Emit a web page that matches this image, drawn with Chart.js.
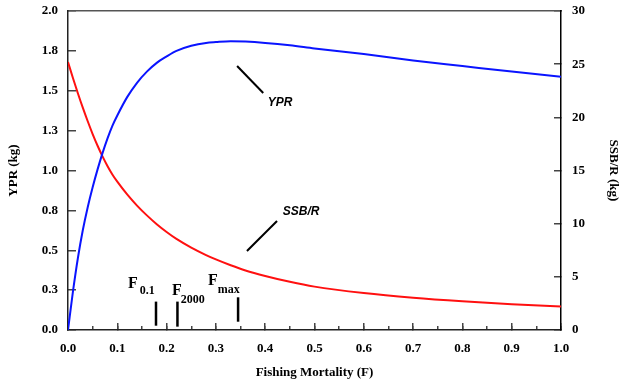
<!DOCTYPE html>
<html>
<head>
<meta charset="utf-8">
<script src="https://cdn.jsdelivr.net/npm/chart.js@4.4.1/dist/chart.umd.min.js"></script>
<style>
  html, body { margin: 0; padding: 0; background: #fff; }
  #chart { display: block; }
</style>
</head>
<body>
<canvas id="chart" width="621" height="380"></canvas>
<script>
// fishing mortality grid (F) and the two curves
const fishingMortality = [0, 0.01, 0.02, 0.03, 0.04, 0.05, 0.06, 0.07, 0.08, 0.09, 0.10,
    0.12, 0.14, 0.16, 0.18, 0.20, 0.22, 0.25, 0.28, 0.30, 0.33, 0.36, 0.40, 0.45, 0.50,
    0.60, 0.70, 0.80, 0.90, 1.00]
const yprValues = [0, 0.24, 0.45, 0.625, 0.77, 0.895, 1.007, 1.109, 1.20, 1.28, 1.345,
    1.46, 1.55, 1.62, 1.675, 1.715, 1.75, 1.782, 1.80, 1.805, 1.81, 1.808, 1.80, 1.785, 1.765,
    1.73, 1.69, 1.655, 1.62, 1.588]
const ssbrValues = [25.2, 23.7, 22.27, 20.91, 19.63, 18.43, 17.33, 16.33, 15.43, 14.63, 13.95,
    12.75, 11.7, 10.78, 9.95, 9.22, 8.57, 7.75, 7.05, 6.64, 6.09, 5.6, 5.08, 4.53, 4.08,
    3.48, 3.04, 2.7, 2.42, 2.2]

// biological reference points
const refPointNames = ['0.1', '2000', 'max']
const refPointValues = [0.1785, 0.222, 0.345]

// axis ranges
const xRange = [0, 1]
const yprRange = [0, 2]
const ssbrRange = [0, 30]

const serif = "'Liberation Serif', 'Times New Roman', Times, serif"
const sans = "'Liberation Sans', Arial, Helvetica, sans-serif"
const tickFont = { family: serif, size: 13, weight: 'bold' }
const axisColor = '#222'
const tickColor = '#444'

// annotation layout (data units of x / left y axis)
const curveLabels = [
    { text: 'YPR', at: [0.430, 1.423], line: [0.343, 1.655, 0.396, 1.486] },
    { text: 'SSB/R', at: [0.473, 0.740], line: [0.424, 0.683, 0.363, 0.495] },
]
const refLayout = [
    { low: 0.027, high: 0.178, fx: 0.1217, fy: 0.2614, gap: 2, dy: 6 },
    { low: 0.021, high: 0.178, fx: 0.211, fy: 0.2194, gap: -1, dy: 8 },
    { low: 0.052, high: 0.205, fx: 0.284, fy: 0.282, gap: 0, dy: 8 },
]

function noPad(s) {
    s.paddingTop = 0
    s.paddingBottom = 0
    s.paddingLeft = 0
    s.paddingRight = 0
}

const annotations = {
    id: 'annotations',
    afterDatasetsDraw(chart) {
        const { ctx } = chart
        const x = chart.scales.x
        const y = chart.scales.y
        ctx.save()
        ctx.strokeStyle = '#000'
        ctx.fillStyle = '#000'
        ctx.lineWidth = 2
        for (let c of curveLabels) {
            ctx.beginPath()
            ctx.moveTo(x.getPixelForValue(c.line[0]), y.getPixelForValue(c.line[1]))
            ctx.lineTo(x.getPixelForValue(c.line[2]), y.getPixelForValue(c.line[3]))
            ctx.stroke()
            ctx.font = 'italic bold 12px ' + sans
            ctx.textAlign = 'center'
            ctx.textBaseline = 'middle'
            ctx.fillText(c.text, x.getPixelForValue(c.at[0]), y.getPixelForValue(c.at[1]))
        }
        ctx.lineWidth = 2.5
        ctx.textAlign = 'left'
        ctx.textBaseline = 'alphabetic'
        refPointValues.forEach((f, i) => {
            const l = refLayout[i]
            const px = x.getPixelForValue(f)
            ctx.beginPath()
            ctx.moveTo(px, y.getPixelForValue(l.low))
            ctx.lineTo(px, y.getPixelForValue(l.high))
            ctx.stroke()
            const lx = x.getPixelForValue(l.fx)
            const ly = y.getPixelForValue(l.fy)
            ctx.font = 'bold 16px ' + serif
            ctx.fillText('F', lx, ly)
            const w = ctx.measureText('F').width
            ctx.font = 'bold 12px ' + serif
            ctx.fillText(refPointNames[i], lx + w + l.gap, ly + l.dy)
        })
        ctx.restore()
    }
}

const ctx = document.getElementById('chart')
new Chart(ctx, {
    type: 'line',
    data: {
        datasets: [
            {
                label: 'YPR',
                data: fishingMortality.map((f, i) => ({ x: f, y: yprValues[i] })),
                yAxisID: 'y',
                borderColor: '#0a14ff',
                borderWidth: 2,
                pointRadius: 0,
                cubicInterpolationMode: 'monotone',
            },
            {
                label: 'SSB/R',
                data: fishingMortality.map((f, i) => ({ x: f, y: ssbrValues[i] })),
                yAxisID: 'y2',
                borderColor: '#ff1010',
                borderWidth: 2,
                pointRadius: 0,
                cubicInterpolationMode: 'monotone',
            },
        ]
    },
    options: {
        responsive: false,
        animation: false,
        events: [],
        layout: { padding: { top: 11, left: 0, right: 0, bottom: 0 } },
        plugins: { legend: { display: false }, tooltip: { enabled: false } },
        scales: {
            x: {
                type: 'linear',
                position: 'bottom',
                weight: 1,
                min: xRange[0],
                max: xRange[1],
                ticks: {
                    stepSize: 0.1,
                    padding: 18,
                    color: '#000',
                    font: tickFont,
                    maxRotation: 0,
                    callback: v => v.toFixed(1),
                },
                grid: { drawOnChartArea: false, tickLength: -7, color: tickColor, lineWidth: 1.5 },
                border: { color: axisColor, width: 1.5 },
                title: {
                    display: true,
                    text: 'Fishing Mortality (F)',
                    color: '#000',
                    font: tickFont,
                    padding: { top: 1, bottom: 0 },
                },
                afterFit: s => { s.height = 50; noPad(s) },
            },
            xMinor: {
                type: 'linear',
                position: 'bottom',
                weight: 0,
                min: xRange[0],
                max: xRange[1],
                ticks: { stepSize: 0.05, display: false },
                grid: { drawOnChartArea: false, tickLength: -4, color: tickColor, lineWidth: 1.5 },
                border: { display: false },
                afterFit: s => { s.height = 0; noPad(s) },
            },
            xTop: {
                type: 'linear',
                position: 'top',
                min: xRange[0],
                max: xRange[1],
                ticks: { display: false },
                grid: { drawOnChartArea: false, drawTicks: false },
                border: { color: '#555', width: 1.5 },
                afterFit: s => { s.height = 0; noPad(s) },
            },
            y: {
                type: 'linear',
                position: 'left',
                min: yprRange[0],
                max: yprRange[1],
                ticks: {
                    stepSize: 0.25,
                    padding: 18,
                    color: '#000',
                    font: tickFont,
                    callback: v => v.toFixed(1),
                },
                grid: { drawOnChartArea: false, tickLength: -8, color: tickColor, lineWidth: 1.5 },
                border: { color: axisColor, width: 1.5 },
                title: {
                    display: true,
                    text: 'YPR (kg)',
                    color: '#000',
                    font: tickFont,
                    padding: { top: 6, bottom: 0 },
                },
                afterFit: s => { s.width = 68; noPad(s) },
            },
            y2: {
                type: 'linear',
                position: 'right',
                min: ssbrRange[0],
                max: ssbrRange[1],
                ticks: {
                    stepSize: 5,
                    padding: 18,
                    color: '#000',
                    font: tickFont,
                },
                grid: { drawOnChartArea: false, tickLength: -7, color: tickColor, lineWidth: 1.5 },
                border: { color: '#000', width: 1.5 },
                title: {
                    display: true,
                    text: 'SSB/R (kg)',
                    color: '#000',
                    font: tickFont,
                    padding: { top: 0, bottom: 0 },
                },
                afterFit: s => { s.width = 60; noPad(s) },
            },
        }
    },
    plugins: [annotations]
})
</script>
</body>
</html>
